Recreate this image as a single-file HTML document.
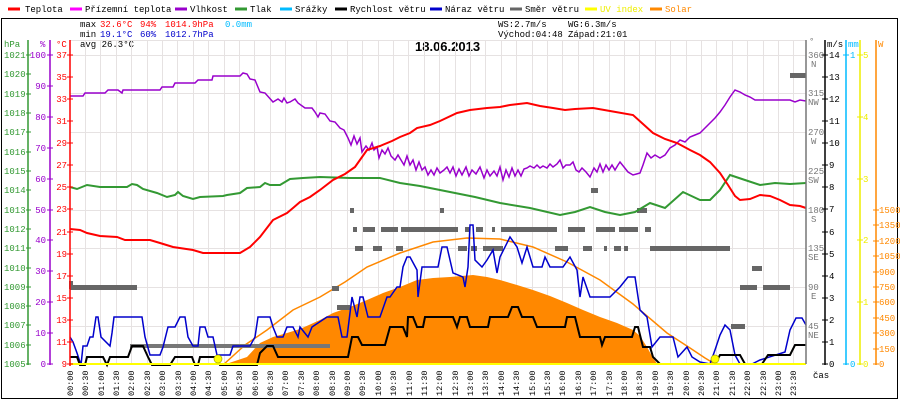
<!DOCTYPE html>
<html><head><meta charset="utf-8"><style>
html,body{margin:0;padding:0;background:#fff;}
svg{display:block;font-family:"Liberation Mono",monospace;font-size:9px;}
</style></head><body>
<svg width="900" height="400" viewBox="0 0 900 400" xmlns="http://www.w3.org/2000/svg">
<rect x="0" y="0" width="900" height="400" fill="#fff"/>
<rect x="1.5" y="18.5" width="896" height="380" fill="none" stroke="#000" stroke-width="1"/>
<!-- legend -->
<g font-size="9">
<line x1="8" y1="9" x2="20" y2="9" stroke="#f00" stroke-width="3"/><text x="25" y="12">Teplota</text>
<line x1="70" y1="9" x2="82" y2="9" stroke="#f0f" stroke-width="3"/><text x="85" y="12">Přízemní teplota</text>
<line x1="175" y1="9" x2="187" y2="9" stroke="#90c" stroke-width="3"/><text x="190" y="12">Vlhkost</text>
<line x1="235" y1="9" x2="247" y2="9" stroke="#393" stroke-width="3"/><text x="250" y="12">Tlak</text>
<line x1="280" y1="9" x2="292" y2="9" stroke="#0bf" stroke-width="3"/><text x="295" y="12">Srážky</text>
<line x1="335" y1="9" x2="347" y2="9" stroke="#000" stroke-width="3"/><text x="350" y="12">Rychlost větru</text>
<line x1="430" y1="9" x2="442" y2="9" stroke="#00c" stroke-width="3"/><text x="445" y="12">Náraz větru</text>
<line x1="510" y1="9" x2="522" y2="9" stroke="#666" stroke-width="3"/><text x="525" y="12">Směr větru</text>
<line x1="585" y1="9" x2="597" y2="9" stroke="#ff0" stroke-width="3"/><text x="600" y="12" fill="#ee0">UV index</text>
<line x1="650" y1="9" x2="662" y2="9" stroke="#f80" stroke-width="3"/><text x="665" y="12" fill="#f80">Solar</text>
</g>
<!-- stats -->
<g font-size="9">
<text x="80" y="27">max</text><text x="100" y="27" fill="#f00">32.6°C</text><text x="140" y="27" fill="#f00">94%</text><text x="165" y="27" fill="#f00">1014.9hPa</text><text x="225" y="27" fill="#0bf">0.0mm</text>
<text x="80" y="37">min</text><text x="100" y="37" fill="#00c">19.1°C</text><text x="140" y="37" fill="#00c">60%</text><text x="165" y="37" fill="#00c">1012.7hPa</text>
<text x="80" y="47">avg 26.3°C</text>
<text x="498" y="27">WS:2.7m/s</text><text x="568" y="27">WG:6.3m/s</text>
<text x="498" y="37">Východ:04:48</text><text x="568" y="37">Západ:21:01</text>
</g>
<text x="415" y="51" font-size="13" font-weight="bold" font-family="Liberation Sans,sans-serif">18.06.2013</text>
<!-- grid -->
<g stroke="#e6e2e2" stroke-width="1">
<line x1="70" y1="40.5" x2="806" y2="40.5"/>
<line x1="70" y1="55.5" x2="806" y2="55.5"/><line x1="70" y1="93.5" x2="806" y2="93.5"/><line x1="70" y1="132.5" x2="806" y2="132.5"/><line x1="70" y1="171.5" x2="806" y2="171.5"/><line x1="70" y1="210.5" x2="806" y2="210.5"/><line x1="70" y1="248.5" x2="806" y2="248.5"/><line x1="70" y1="287.5" x2="806" y2="287.5"/><line x1="70" y1="326.5" x2="806" y2="326.5"/>
<line x1="85.5" y1="40" x2="85.5" y2="364"/><line x1="100.5" y1="40" x2="100.5" y2="364"/><line x1="116.5" y1="40" x2="116.5" y2="364"/><line x1="131.5" y1="40" x2="131.5" y2="364"/><line x1="147.5" y1="40" x2="147.5" y2="364"/><line x1="162.5" y1="40" x2="162.5" y2="364"/><line x1="177.5" y1="40" x2="177.5" y2="364"/><line x1="193.5" y1="40" x2="193.5" y2="364"/><line x1="208.5" y1="40" x2="208.5" y2="364"/><line x1="224.5" y1="40" x2="224.5" y2="364"/><line x1="239.5" y1="40" x2="239.5" y2="364"/><line x1="254.5" y1="40" x2="254.5" y2="364"/><line x1="270.5" y1="40" x2="270.5" y2="364"/><line x1="285.5" y1="40" x2="285.5" y2="364"/><line x1="301.5" y1="40" x2="301.5" y2="364"/><line x1="316.5" y1="40" x2="316.5" y2="364"/><line x1="331.5" y1="40" x2="331.5" y2="364"/><line x1="347.5" y1="40" x2="347.5" y2="364"/><line x1="362.5" y1="40" x2="362.5" y2="364"/><line x1="378.5" y1="40" x2="378.5" y2="364"/><line x1="393.5" y1="40" x2="393.5" y2="364"/><line x1="408.5" y1="40" x2="408.5" y2="364"/><line x1="424.5" y1="40" x2="424.5" y2="364"/><line x1="439.5" y1="40" x2="439.5" y2="364"/><line x1="455.5" y1="40" x2="455.5" y2="364"/><line x1="470.5" y1="40" x2="470.5" y2="364"/><line x1="485.5" y1="40" x2="485.5" y2="364"/><line x1="501.5" y1="40" x2="501.5" y2="364"/><line x1="516.5" y1="40" x2="516.5" y2="364"/><line x1="532.5" y1="40" x2="532.5" y2="364"/><line x1="547.5" y1="40" x2="547.5" y2="364"/><line x1="562.5" y1="40" x2="562.5" y2="364"/><line x1="578.5" y1="40" x2="578.5" y2="364"/><line x1="593.5" y1="40" x2="593.5" y2="364"/><line x1="609.5" y1="40" x2="609.5" y2="364"/><line x1="624.5" y1="40" x2="624.5" y2="364"/><line x1="639.5" y1="40" x2="639.5" y2="364"/><line x1="655.5" y1="40" x2="655.5" y2="364"/><line x1="670.5" y1="40" x2="670.5" y2="364"/><line x1="686.5" y1="40" x2="686.5" y2="364"/><line x1="701.5" y1="40" x2="701.5" y2="364"/><line x1="716.5" y1="40" x2="716.5" y2="364"/><line x1="732.5" y1="40" x2="732.5" y2="364"/><line x1="747.5" y1="40" x2="747.5" y2="364"/><line x1="763.5" y1="40" x2="763.5" y2="364"/><line x1="778.5" y1="40" x2="778.5" y2="364"/><line x1="793.5" y1="40" x2="793.5" y2="364"/>
</g>
<!-- solar fill -->
<polygon fill="#f80" points="223,365 247,357 260,343 273,337 287,333 300,329 320,320 333,313 350,307 367,300 383,293 400,287 417,280 433,278 450,277 473,275 487,277 500,280 517,285 533,290 550,296 567,303 583,310 600,317 617,323 633,330 640,336 647,347 653,358 658,365"/>
<!-- solar theoretical -->
<polyline fill="none" stroke="#f80" stroke-width="1.5" points="223,365 245,345 267,330 293,310 320,297 345,282 367,267 400,253 433,242 467,238 500,239 533,247 567,262 600,280 633,304 667,333 690,348 705,358 715,364"/>
<!-- wind direction -->
<g fill="#666">
<rect x="69" y="281" width="4" height="8"/><rect x="70" y="285" width="67" height="5"/>
<rect x="130" y="344" width="200" height="4" fill="#777"/>
<rect x="332" y="286" width="7" height="5"/><rect x="337" y="305" width="13" height="5"/>
<rect x="350" y="208" width="4" height="5"/><rect x="440" y="208" width="4" height="5"/><rect x="591" y="188" width="7" height="5"/><rect x="637" y="208" width="10" height="5"/>
<rect x="353" y="227" width="4" height="5"/><rect x="363" y="227" width="12" height="5"/><rect x="381" y="227" width="17" height="5"/><rect x="401" y="227" width="57" height="5"/><rect x="465" y="227" width="5" height="5"/><rect x="476" y="227" width="7" height="5"/><rect x="492" y="227" width="3" height="5"/><rect x="501" y="227" width="56" height="5"/><rect x="568" y="227" width="17" height="5"/><rect x="596" y="227" width="19" height="5"/><rect x="619" y="227" width="19" height="5"/><rect x="645" y="227" width="6" height="5"/>
<rect x="355" y="246" width="8" height="5"/><rect x="373" y="246" width="9" height="5"/><rect x="396" y="246" width="7" height="5"/><rect x="458" y="246" width="9" height="5"/><rect x="471" y="246" width="6" height="5"/><rect x="483" y="246" width="20" height="5"/><rect x="555" y="246" width="13" height="5"/><rect x="583" y="246" width="9" height="5"/><rect x="604" y="246" width="3" height="5"/><rect x="614" y="246" width="7" height="5"/><rect x="624" y="246" width="4" height="5"/><rect x="650" y="246" width="80" height="5"/>
<rect x="752" y="266" width="10" height="5"/><rect x="740" y="285" width="17" height="5"/><rect x="763" y="285" width="27" height="5"/><rect x="731" y="324" width="14" height="5"/><rect x="790" y="73" width="16" height="5"/>
</g>
<!-- pressure -->
<polyline fill="none" stroke="#393" stroke-width="2" points="70,187 77,189 87,185 100,187 127,187 132,184 137,185 143,189 157,193 167,197 175,195 178,192 183,196 193,199 200,197 223,196 227,195 240,193 247,188 260,187 265,183 270,185 280,185 290,179 303,178 320,177 350,178 380,178 400,183 420,186 450,192 475,197 500,203 530,208 560,215 575,212 590,207 605,212 620,215 635,212 650,203 665,208 683,192 700,200 710,200 720,190 730,175 745,180 760,185 775,183 790,184 806,183"/>
<!-- humidity -->
<polyline fill="none" stroke="#90c" stroke-width="1.5" points="70,96 83,96 85,93 105,93 108,90 118,90 122,93 123,90 160,90 162,87 173,87 175,83 195,83 198,80 212,80 213,76 240,76 243,73 247,74 250,79 255,80 260,92 265,93 273,102 278,99 282,102 284,98 287,103 290,102 295,99 298,103 305,108 312,108 315,112 318,117 320,113 325,114 330,121 335,122 340,128 344,130 348,138 351,145 354,136 357,144 360,138 362,152 366,146 369,150 372,143 374,150 377,147 379,158 382,150 385,154 388,148 391,156 395,160 398,155 401,160 404,165 407,156 410,165 413,160 416,170 419,162 422,170 425,167 428,175 431,170 434,175 437,168 440,173 444,170 447,167 450,173 453,167 456,176 459,169 462,175 466,167 469,176 472,170 476,174 480,167 484,178 487,170 490,176 494,171 497,176 500,167 503,180 506,170 509,177 512,168 515,176 518,170 521,176 524,169 527,168 530,166 534,168 537,165 540,168 543,166 547,168 550,164 553,167 557,164 560,160 563,168 566,165 570,165 573,162 576,170 579,172 582,168 586,172 590,177 594,168 597,172 600,164 603,172 606,165 609,170 612,165 615,170 618,165 620,162 624,167 628,172 633,175 640,173 643,165 647,153 651,158 655,155 660,158 665,155 670,148 675,145 680,140 685,142 690,137 695,135 700,133 705,128 710,123 715,118 720,112 725,105 730,97 735,90 740,92 745,95 750,97 755,100 760,100 770,100 780,100 790,100 795,102 800,100 806,101"/>
<!-- temperature -->
<polyline fill="none" stroke="#f00" stroke-width="2" points="70,229 80,230 87,233 100,236 117,237 125,240 150,240 160,243 173,247 193,250 203,253 220,253 240,253 250,247 260,237 273,220 287,213 293,208 300,202 310,197 320,190 333,180 345,174 355,167 367,150 380,146 392,141 400,137 410,133 417,128 430,125 440,121 457,113 470,110 487,108 500,107 510,105 527,103 540,106 553,108 565,110 575,109 593,108 610,111 633,115 643,124 653,133 665,139 677,143 690,150 700,155 710,162 720,173 728,185 735,196 740,200 750,199 760,195 770,196 780,200 790,205 800,206 806,208"/>
<!-- gust -->
<polyline fill="none" stroke="#00c" stroke-width="1.5" points="70,337 73,342 77,353 81,365 83,346 87,346 90,337 93,337 96,317 98,317 101,337 110,346 112,333 114,317 142,317 145,337 150,355 160,355 163,347 168,327 175,327 180,317 185,317 188,337 193,346 198,346 200,327 205,327 208,337 213,337 217,355 230,355 233,346 250,346 255,337 258,317 270,317 273,327 277,337 283,337 287,327 293,327 298,337 300,327 308,337 312,327 327,317 338,317 342,337 347,337 352,297 357,317 360,297 363,297 368,317 380,317 387,297 390,297 397,287 400,287 403,267 407,257 410,257 417,270 418,297 422,267 438,267 442,247 447,247 453,273 463,277 465,287 468,267 470,225 473,225 475,260 482,267 487,260 493,250 497,273 500,257 510,237 517,247 522,263 527,247 533,267 542,267 545,257 550,267 563,267 570,257 577,270 580,297 583,277 590,297 610,297 620,287 628,277 635,277 640,310 647,317 652,347 660,337 673,337 678,357 687,347 692,357 700,362 710,364 715,350 720,335 725,325 730,330 735,355 740,364 752,364 760,360 785,352 790,330 796,318 802,318 806,325"/>
<!-- wind speed -->
<polyline fill="none" stroke="#000" stroke-width="2" points="70,357 77,357 80,365 85,365 87,357 103,357 107,365 110,357 128,357 132,346 143,346 148,357 152,365 170,365 175,357 192,357 195,365 198,365 200,357 217,357 220,365 257,365 260,353 267,346 273,346 278,357 348,357 352,337 358,337 362,345 385,345 390,327 403,327 407,337 408,317 413,317 417,327 423,327 425,317 453,317 457,327 460,317 467,317 470,327 488,327 490,317 508,317 512,307 518,307 522,317 533,317 537,327 565,327 567,317 575,317 580,337 600,337 602,345 605,337 632,337 635,327 638,327 643,347 650,347 653,357 660,364 715,364 720,355 740,355 745,364 762,364 768,355 790,355 795,345 806,345"/>
<!-- UV -->
<line x1="70" y1="364" x2="806" y2="364" stroke="#ff0" stroke-width="2"/>
<circle cx="218" cy="359" r="4" fill="#ff0" stroke="#aa0" stroke-width="0.7"/>
<circle cx="715" cy="359" r="4" fill="#ff0" stroke="#aa0" stroke-width="0.7"/>
<!-- left axes -->
<g stroke-width="1.5">
<line x1="28" y1="40" x2="28" y2="365" stroke="#393"/>
<line x1="50" y1="40" x2="50" y2="365" stroke="#90c"/>
<line x1="70" y1="40" x2="70" y2="366" stroke="#f00"/>
</g>
<g font-size="9">
<text x="4" y="47" fill="#393">hPa</text><text x="40" y="47" fill="#90c">%</text><text x="56" y="47" fill="#f00">°C</text>
</g>
<g fill="#393" font-size="9">
<text x="4" y="58">1021</text><text x="4" y="77">1020</text><text x="4" y="97">1019</text><text x="4" y="116">1018</text><text x="4" y="135">1017</text><text x="4" y="155">1016</text><text x="4" y="174">1015</text><text x="4" y="193">1014</text><text x="4" y="213">1013</text><text x="4" y="232">1012</text><text x="4" y="251">1011</text><text x="4" y="271">1010</text><text x="4" y="290">1009</text><text x="4" y="309">1008</text><text x="4" y="328">1007</text><text x="4" y="348">1006</text><text x="4" y="367">1005</text>
</g>
<g stroke="#393"><path d="M26 55h5M26 74h5M26 94h5M26 113h5M26 132h5M26 152h5M26 171h5M26 190h5M26 210h5M26 229h5M26 248h5M26 268h5M26 287h5M26 306h5M26 325h5M26 345h5M26 364h5"/></g>
<g fill="#90c" font-size="9" text-anchor="end">
<text x="46" y="58">100</text><text x="46" y="89">90</text><text x="46" y="120">80</text><text x="46" y="151">70</text><text x="46" y="182">60</text><text x="46" y="213">50</text><text x="46" y="243">40</text><text x="46" y="274">30</text><text x="46" y="305">20</text><text x="46" y="336">10</text><text x="46" y="367">0</text>
</g>
<g stroke="#90c"><path d="M47 55h6M47 86h6M47 117h6M47 148h6M47 179h6M47 210h6M47 240h6M47 271h6M47 302h6M47 333h6M47 364h6"/></g>
<g fill="#f00" font-size="9" text-anchor="end">
<text x="67" y="58">37</text><text x="67" y="80">35</text><text x="67" y="102">33</text><text x="67" y="124">31</text><text x="67" y="146">29</text><text x="67" y="168">27</text><text x="67" y="190">25</text><text x="67" y="212">23</text><text x="67" y="235">21</text><text x="67" y="257">19</text><text x="67" y="279">17</text><text x="67" y="301">15</text><text x="67" y="323">13</text><text x="67" y="345">11</text><text x="67" y="367">9</text>
</g>
<g stroke="#f00"><path d="M67 55h6M67 77h6M67 99h6M67 121h6M67 143h6M67 165h6M67 187h6M67 209h6M67 232h6M67 254h6M67 276h6M67 298h6M67 320h6M67 342h6M67 364h6"/></g>
<!-- right axes -->
<g stroke-width="1.5">
<line x1="806" y1="40" x2="806" y2="364" stroke="#777"/>
<line x1="825" y1="40" x2="825" y2="365" stroke="#000"/>
<line x1="846" y1="40" x2="846" y2="365" stroke="#0bf"/>
<line x1="860" y1="40" x2="860" y2="365" stroke="#ee0"/>
<line x1="876" y1="40" x2="876" y2="365" stroke="#f80"/>
</g>
<g font-size="9">
<text x="809" y="44" fill="#777">°</text><text x="827" y="47">m/s</text><text x="848" y="47" fill="#0bf">mm</text><text x="878" y="47" fill="#f80">W</text>
</g>
<g fill="#777" font-size="9">
<text x="808" y="58">360</text><text x="811" y="67">N</text>
<text x="808" y="96">315</text><text x="808" y="105">NW</text>
<text x="808" y="135">270</text><text x="811" y="144">W</text>
<text x="808" y="174">225</text><text x="808" y="183">SW</text>
<text x="808" y="213">180</text><text x="811" y="222">S</text>
<text x="808" y="251">135</text><text x="808" y="260">SE</text>
<text x="808" y="290">90</text><text x="811" y="299">E</text>
<text x="808" y="329">45</text><text x="808" y="338">NE</text>
</g>
<g stroke="#000"><path d="M822 55h6M822 77h6M822 99h6M822 121h6M822 143h6M822 165h6M822 187h6M822 209h6M822 232h6M822 254h6M822 276h6M822 298h6M822 320h6M822 342h6M822 364h6"/></g>
<g font-size="9">
<text x="829" y="58">14</text><text x="829" y="80">13</text><text x="829" y="102">12</text><text x="829" y="124">11</text><text x="829" y="146">10</text><text x="829" y="168">9</text><text x="829" y="190">8</text><text x="829" y="212">7</text><text x="829" y="235">6</text><text x="829" y="257">5</text><text x="829" y="279">4</text><text x="829" y="301">3</text><text x="829" y="323">2</text><text x="829" y="345">1</text><text x="829" y="367">0</text>
</g>
<g stroke="#0bf"><path d="M843 55h6M843 364h6"/></g>
<text x="850" y="58" fill="#0bf">1</text><text x="850" y="367" fill="#0bf">0</text>
<g stroke="#ee0"><path d="M857 55h6M857 117h6M857 179h6M857 240h6M857 302h6M857 364h6"/></g>
<g fill="#ee0" font-size="9"><text x="863" y="58">5</text><text x="863" y="120">4</text><text x="863" y="182">3</text><text x="863" y="243">2</text><text x="863" y="305">1</text><text x="863" y="367">0</text></g>
<g stroke="#f80"><path d="M873 210h6M873 225h6M873 241h6M873 256h6M873 272h6M873 287h6M873 302h6M873 318h6M873 333h6M873 349h6M873 364h6"/></g>
<g fill="#f80" font-size="9"><text x="879" y="213">1500</text><text x="879" y="228">1350</text><text x="879" y="244">1200</text><text x="879" y="259">1050</text><text x="879" y="275">900</text><text x="879" y="290">750</text><text x="879" y="305">600</text><text x="879" y="321">450</text><text x="879" y="336">300</text><text x="879" y="352">150</text><text x="879" y="367">0</text></g>
<text x="813" y="378" font-size="9">čas</text>
<!-- time labels -->
<g font-size="8.5" id="tl">
<g transform="translate(73,396) rotate(-90)"><text>00:00</text></g>
<g transform="translate(88,396) rotate(-90)"><text>00:30</text></g>
<g transform="translate(104,396) rotate(-90)"><text>01:00</text></g>
<g transform="translate(119,396) rotate(-90)"><text>01:30</text></g>
<g transform="translate(134,396) rotate(-90)"><text>02:00</text></g>
<g transform="translate(150,396) rotate(-90)"><text>02:30</text></g>
<g transform="translate(165,396) rotate(-90)"><text>03:00</text></g>
<g transform="translate(181,396) rotate(-90)"><text>03:30</text></g>
<g transform="translate(196,396) rotate(-90)"><text>04:00</text></g>
<g transform="translate(211,396) rotate(-90)"><text>04:30</text></g>
<g transform="translate(227,396) rotate(-90)"><text>05:00</text></g>
<g transform="translate(242,396) rotate(-90)"><text>05:30</text></g>
<g transform="translate(258,396) rotate(-90)"><text>06:00</text></g>
<g transform="translate(273,396) rotate(-90)"><text>06:30</text></g>
<g transform="translate(288,396) rotate(-90)"><text>07:00</text></g>
<g transform="translate(304,396) rotate(-90)"><text>07:30</text></g>
<g transform="translate(319,396) rotate(-90)"><text>08:00</text></g>
<g transform="translate(335,396) rotate(-90)"><text>08:30</text></g>
<g transform="translate(350,396) rotate(-90)"><text>09:00</text></g>
<g transform="translate(365,396) rotate(-90)"><text>09:30</text></g>
<g transform="translate(381,396) rotate(-90)"><text>10:00</text></g>
<g transform="translate(396,396) rotate(-90)"><text>10:30</text></g>
<g transform="translate(412,396) rotate(-90)"><text>11:00</text></g>
<g transform="translate(427,396) rotate(-90)"><text>11:30</text></g>
<g transform="translate(442,396) rotate(-90)"><text>12:00</text></g>
<g transform="translate(458,396) rotate(-90)"><text>12:30</text></g>
<g transform="translate(473,396) rotate(-90)"><text>13:00</text></g>
<g transform="translate(488,396) rotate(-90)"><text>13:30</text></g>
<g transform="translate(504,396) rotate(-90)"><text>14:00</text></g>
<g transform="translate(519,396) rotate(-90)"><text>14:30</text></g>
<g transform="translate(535,396) rotate(-90)"><text>15:00</text></g>
<g transform="translate(550,396) rotate(-90)"><text>15:30</text></g>
<g transform="translate(565,396) rotate(-90)"><text>16:00</text></g>
<g transform="translate(581,396) rotate(-90)"><text>16:30</text></g>
<g transform="translate(596,396) rotate(-90)"><text>17:00</text></g>
<g transform="translate(612,396) rotate(-90)"><text>17:30</text></g>
<g transform="translate(627,396) rotate(-90)"><text>18:00</text></g>
<g transform="translate(642,396) rotate(-90)"><text>18:30</text></g>
<g transform="translate(658,396) rotate(-90)"><text>19:00</text></g>
<g transform="translate(673,396) rotate(-90)"><text>19:30</text></g>
<g transform="translate(689,396) rotate(-90)"><text>20:00</text></g>
<g transform="translate(704,396) rotate(-90)"><text>20:30</text></g>
<g transform="translate(719,396) rotate(-90)"><text>21:00</text></g>
<g transform="translate(735,396) rotate(-90)"><text>21:30</text></g>
<g transform="translate(750,396) rotate(-90)"><text>22:00</text></g>
<g transform="translate(766,396) rotate(-90)"><text>22:30</text></g>
<g transform="translate(781,396) rotate(-90)"><text>23:00</text></g>
<g transform="translate(796,396) rotate(-90)"><text>23:30</text></g>
</g>
</svg>
</body></html>
